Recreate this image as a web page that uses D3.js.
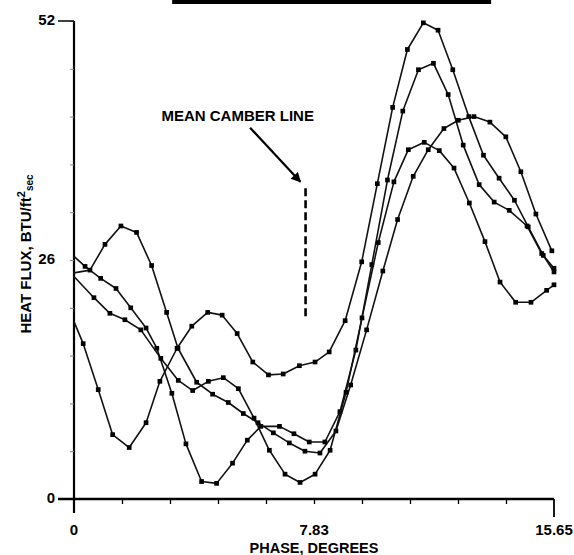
<!DOCTYPE html>
<html>
<head>
<meta charset="utf-8">
<script src="https://cdn.jsdelivr.net/npm/d3@7"></script>
<style>
  html, body { margin: 0; padding: 0; background: #fff; }
  svg { display: block; font-family: "Liberation Sans", Arial, sans-serif; font-weight: bold; }
</style>
</head>
<body>
<svg id="chart" width="574" height="555"></svg>
<script>
// Heat flux traces versus blade phase (degrees), one pair of arrays per trace.
const phase1 = [0, 0.30, 0.79, 1.26, 1.80, 2.35, 2.80, 3.36, 3.84, 4.36, 4.83, 5.32, 5.83, 6.34, 6.82, 7.35, 7.86, 8.32, 8.84, 9.38, 9.89, 10.39, 10.87, 11.39, 11.87, 12.35, 12.87, 13.35, 13.86, 14.36, 14.81, 15.30, 15.65];
const flux1  = [19.3, 16.9, 11.9, 7.0, 5.6, 8.3, 12.8, 16.4, 18.8, 20.3, 20.0, 18.0, 14.9, 13.5, 13.6, 14.5, 14.9, 16.0, 19.4, 25.8, 34.3, 42.6, 48.9, 51.8, 51.0, 46.7, 41.6, 37.4, 34.9, 32.5, 29.6, 26.5, 24.7];

const phase2 = [0, 0.36, 0.87, 1.37, 1.85, 2.35, 2.70, 3.19, 3.65, 4.16, 4.65, 5.17, 5.65, 6.09, 6.70, 7.17, 7.67, 8.18, 8.67, 9.19, 9.71, 10.22, 10.72, 11.23, 11.72, 12.20, 12.69, 13.21, 13.70, 14.19, 14.77, 15.25, 15.65];
const flux2  = [26.4, 25.3, 24.0, 22.9, 20.8, 18.6, 16.4, 11.5, 6.0, 1.9, 1.7, 3.9, 6.4, 7.9, 7.9, 7.1, 6.2, 6.2, 9.5, 16.2, 25.5, 34.7, 42.2, 46.7, 47.4, 44.0, 38.5, 34.2, 32.3, 31.4, 29.7, 26.7, 25.1];

const phase3 = [0, 0.52, 1.01, 1.53, 2.04, 2.53, 3.02, 3.39, 4.00, 4.52, 5.03, 5.52, 6.00, 6.50, 7.02, 7.53, 8.02, 8.54, 9.02, 9.54, 10.07, 10.55, 11.06, 11.55, 12.06, 12.53, 13.04, 13.56, 14.08, 14.57, 15.06, 15.58];
const flux3  = [24.6, 24.9, 27.7, 29.7, 29.0, 25.4, 20.3, 16.4, 12.7, 11.4, 10.5, 9.3, 8.3, 7.2, 6.1, 5.2, 5.0, 7.4, 12.4, 18.4, 24.8, 30.4, 35.1, 38.0, 40.3, 41.2, 41.6, 41.0, 39.4, 35.6, 31.0, 27.0];

const phase4 = [0, 0.65, 1.17, 1.66, 2.18, 2.83, 3.40, 3.87, 4.38, 4.87, 5.36, 5.87, 6.37, 6.88, 7.37, 7.86, 8.35, 8.87, 9.39, 9.92, 10.43, 10.90, 11.42, 11.91, 12.39, 12.89, 13.40, 13.89, 14.40, 14.90, 15.41, 15.65];
const flux4  = [24.2, 21.9, 20.2, 19.5, 18.4, 15.3, 12.9, 11.8, 12.8, 13.2, 12.0, 8.8, 5.3, 2.7, 1.8, 2.7, 5.3, 11.6, 19.7, 27.9, 34.5, 38.0, 38.8, 37.9, 36.0, 32.2, 28.0, 23.6, 21.4, 21.4, 22.7, 23.3];

// Axis ticks and labels
const xMax = 15.65;
const yMax = 52;
const xTickValues = d3.range(0, 11).map(i => i * xMax / 10);
const xTickLabels = ["0", "7.83", "15.65"];
const xLabelValues = [0, 7.83, 15.65];
const yTickValues = d3.range(0, 11).map(i => i * yMax / 10);
const yLabelValues = [0, 26, 52];
const yTickLabels = ["0", "26", "52"];

// Mean camber line annotation (phase position and flux extent)
const camberPhase = 7.55;
const camberFlux = [19.6, 33.8];
const arrowFrom = [5.74, 40.4];
const arrowTo = [7.38, 34.5];
const noteAt = [2.85, 41.1];

const svg = d3.select("#chart");
const x = d3.scaleLinear().domain([0, xMax]).range([74, 554]);
const y = d3.scaleLinear().domain([0, yMax]).range([499, 21]);

// black rule across the top
svg.append("rect")
  .attr("x", x(3.2)).attr("y", 0)
  .attr("width", x(13.6) - x(3.2)).attr("height", 4)
  .attr("fill", "#000");

// y axis: spine, small ticks, end ticks and labels
svg.append("line")
  .attr("x1", x(0)).attr("x2", x(0))
  .attr("y1", y(yMax)).attr("y2", y(0) + 14)
  .attr("stroke", "#000").attr("stroke-width", 2.2);

const yMinor = d3.axisLeft(y).tickValues(yTickValues).tickSize(4).tickFormat("");
const gYMinor = svg.append("g").attr("transform", `translate(${x(0)},0)`).call(yMinor);
gYMinor.select(".domain").remove();
gYMinor.selectAll(".tick line").attr("stroke", "#888").attr("stroke-width", 1);

svg.append("line")
  .attr("x1", x(0) - 16).attr("x2", x(0))
  .attr("y1", y(yMax)).attr("y2", y(yMax))
  .attr("stroke", "#000").attr("stroke-width", 1.5);

svg.append("g").selectAll("text")
  .data(yLabelValues)
  .join("text")
  .attr("x", 55)
  .attr("y", d => y(d) - 1)
  .attr("dy", "0.36em")
  .attr("text-anchor", "end")
  .attr("font-size", 15)
  .text((d, i) => yTickLabels[i]);

// x axis: spine extended left of the origin, ticks, labels
svg.append("line")
  .attr("x1", x(0) - 16).attr("x2", x(xMax))
  .attr("y1", y(0)).attr("y2", y(0))
  .attr("stroke", "#000").attr("stroke-width", 2.4);

const xAxis = d3.axisBottom(x).tickValues(xTickValues.slice(1, -1)).tickSize(5).tickFormat("");
const gX = svg.append("g").attr("transform", `translate(0,${y(0)})`).call(xAxis);
gX.select(".domain").remove();
gX.selectAll(".tick line").attr("stroke", "#000").attr("stroke-width", 1.3);

svg.append("line")
  .attr("x1", x(xMax)).attr("x2", x(xMax))
  .attr("y1", y(0)).attr("y2", y(0) + 18)
  .attr("stroke", "#000").attr("stroke-width", 1.8);

svg.append("g").selectAll("text")
  .data(xLabelValues)
  .join("text")
  .attr("x", d => x(d))
  .attr("y", 535)
  .attr("text-anchor", "middle")
  .attr("font-size", 15)
  .text((d, i) => xTickLabels[i]);

svg.append("text")
  .attr("x", x(xMax / 2))
  .attr("y", 553)
  .attr("text-anchor", "middle")
  .attr("font-size", 14.5)
  .text("PHASE, DEGREES");

const yTitle = svg.append("text")
  .attr("transform", "translate(31,254) rotate(-90)")
  .attr("text-anchor", "middle")
  .attr("font-size", 15);
yTitle.append("tspan").text("HEAT FLUX, BTU/ft");
yTitle.append("tspan").attr("font-size", 11).attr("dy", -6).text("2");
yTitle.append("tspan").attr("font-size", 10).attr("dy", 8).text("sec");

// traces
const traces = [
  [phase1, flux1],
  [phase2, flux2],
  [phase3, flux3],
  [phase4, flux4]
].map(([p, f]) => p.map((v, i) => [v, f[i]]));

const line = d3.line().x(d => x(d[0])).y(d => y(d[1]));
const marker = d3.symbol().type(d3.symbolSquare).size(22);

const gTraces = svg.append("g");
traces.forEach(pts => {
  gTraces.append("path")
    .attr("d", line(pts))
    .attr("fill", "none")
    .attr("stroke", "#111")
    .attr("stroke-width", 1.6)
    .attr("stroke-linejoin", "round");
  gTraces.append("g").selectAll("path")
    .data(pts.slice(1))
    .join("path")
    .attr("transform", d => `translate(${x(d[0])},${y(d[1])})`)
    .attr("d", marker)
    .attr("fill", "#000");
});

// mean camber line annotation
svg.append("line")
  .attr("x1", x(camberPhase)).attr("x2", x(camberPhase))
  .attr("y1", y(camberFlux[1])).attr("y2", y(camberFlux[0]))
  .attr("stroke", "#000").attr("stroke-width", 2.6)
  .attr("stroke-dasharray", "8,4");

svg.append("defs").append("marker")
  .attr("id", "arrowhead")
  .attr("viewBox", "0 0 10 10")
  .attr("refX", 9).attr("refY", 5)
  .attr("markerWidth", 5.5).attr("markerHeight", 4.5)
  .attr("markerUnits", "strokeWidth")
  .attr("orient", "auto")
  .append("path")
  .attr("d", "M0,0 L10,5 L0,10 Z")
  .attr("fill", "#000");

svg.append("line")
  .attr("x1", x(arrowFrom[0])).attr("y1", y(arrowFrom[1]))
  .attr("x2", x(arrowTo[0])).attr("y2", y(arrowTo[1]))
  .attr("stroke", "#000").attr("stroke-width", 2.2)
  .attr("marker-end", "url(#arrowhead)");

svg.append("text")
  .attr("x", x(noteAt[0]))
  .attr("y", y(noteAt[1]))
  .attr("font-size", 15)
  .text("MEAN CAMBER LINE");
</script>
</body>
</html>
